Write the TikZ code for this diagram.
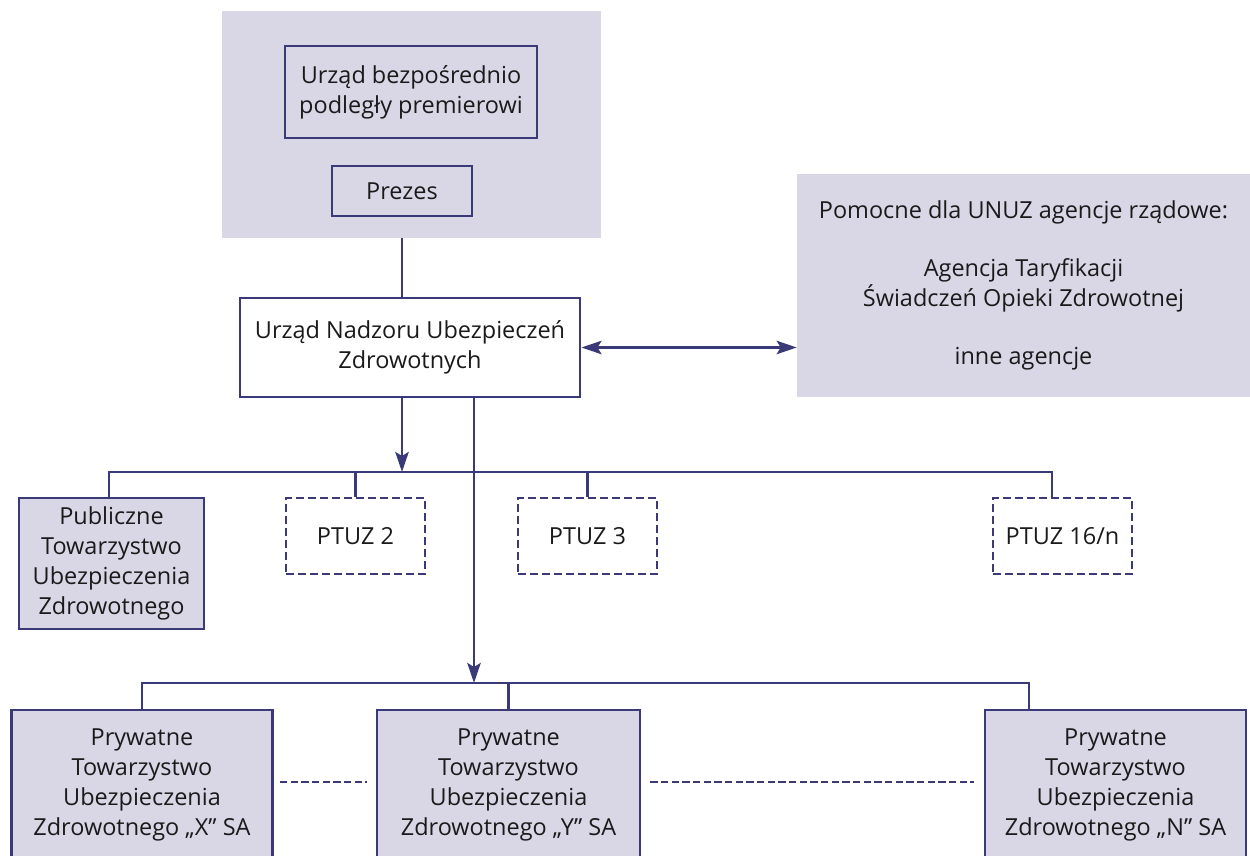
\documentclass[tikz,border=0pt]{standalone}
\usepackage{fontspec}
\setmainfont{Open Sans}
\usetikzlibrary{arrows.meta}
\definecolor{navy}{HTML}{3B3A78}
\definecolor{lav}{HTML}{D9D7E6}
\definecolor{ink}{HTML}{1A1A1A}
\newcommand{\fs}{\fontsize{17.6}{22.5}\selectfont}
\tikzset{
  pbox/.style={draw=navy, line width=2.2pt, align=center, inner sep=0pt, font=\fs, text=ink},
  fbox/.style={pbox, fill=lav},
  dbox/.style={pbox, fill=white, dash pattern=on 6pt off 3pt},
  panel/.style={fill=lav, align=center, inner sep=0pt, font=\fs, text=ink},
  conn/.style={draw=navy, line width=2pt},
  arr/.style={conn, -{Stealth[length=15pt, width=10pt, inset=3pt]}},
  darr/.style={conn, {Stealth[length=15pt, width=10pt, inset=3pt]}-{Stealth[length=15pt, width=10pt, inset=3pt]}},
  dline/.style={conn, dash pattern=on 5.5pt off 2.5pt}
}
\begin{document}
\begin{tikzpicture}[x=0.75pt, y=-0.75pt]
\clip (0,0) rectangle (1250,856);
\fill[white] (0,0) rectangle (1250,856);
% top panel
\node[panel, minimum width=284.25pt, minimum height=170.25pt] (panel) at (411.5,124.5) {};
\node[pbox, minimum width=189pt, minimum height=69pt] (urzad) at (411,92) {Urząd bezpośrednio\\podległy premierowi};
\node[pbox, minimum width=105pt, minimum height=37.5pt] (prezes) at (402,191) {Prezes};
% UNUZ
\node[pbox, fill=white, minimum width=255pt, minimum height=74.25pt] (unuz) at (410,347.5) {Urząd Nadzoru Ubezpieczeń\\Zdrowotnych};
% agencies
\node[panel, minimum width=339.75pt, minimum height=167.25pt] (agen) at (1023.5,285.5) {Pomocne dla UNUZ agencje rządowe:\\[21pt]Agencja Taryfikacji\\Świadczeń Opieki Zdrowotnej\\[21pt]inne agencje};
% public
\node[fbox, minimum width=138.75pt, minimum height=98.25pt] (pub) at (111.5,563.5) {Publiczne\\Towarzystwo\\Ubezpieczenia\\Zdrowotnego};
\node[dbox, minimum width=104.25pt, minimum height=57pt] (p2) at (355.5,536) {PTUZ 2};
\node[dbox, minimum width=104.25pt, minimum height=57pt] (p3) at (587.5,536) {PTUZ 3};
\node[dbox, minimum width=104.25pt, minimum height=57pt] (p16) at (1062.5,536) {PTUZ 16/n};
% private
\node[fbox, minimum width=195.75pt, minimum height=112.5pt] (px) at (142,785) {Prywatne\\Towarzystwo\\Ubezpieczenia\\Zdrowotnego „X” SA};
\node[fbox, minimum width=197.25pt, minimum height=112.5pt] (py) at (508.5,785) {Prywatne\\Towarzystwo\\Ubezpieczenia\\Zdrowotnego „Y” SA};
\node[fbox, minimum width=195.75pt, minimum height=112.5pt] (pn) at (1115.5,785) {Prywatne\\Towarzystwo\\Ubezpieczenia\\Zdrowotnego „N” SA};
% bus levels
\coordinate (bus1) at (0,472);
\coordinate (bus2) at (0,683);
% connectors
\draw[conn] (panel.south -| prezes.south) -- (unuz.north -| prezes.south);
\draw[darr] (unuz.east) -- (agen.west |- unuz.east);
\draw[arr] ([xshift=-6pt]unuz.south) -- ([xshift=-6pt]unuz.south |- bus1);
\draw[arr] ([xshift=48pt]unuz.south) -- ([xshift=48pt]unuz.south |- bus2);
\draw[conn] ([xshift=-1.9pt]pub.north) -- ([xshift=-1.9pt]pub.north |- bus1) -| ([xshift=-7.9pt]p16.north);
\draw[conn] (p2.north) -- (p2.north |- bus1);
\draw[conn] (p3.north) -- (p3.north |- bus1);
\draw[conn] (px.north) -- (px.north |- bus2) -| ([xshift=-65pt]pn.north);
\draw[conn] (py.north) -- (py.north |- bus2);
\draw[dline] ([xshift=4.5pt,yshift=2.25pt]px.east) -- ([xshift=-6.75pt,yshift=2.25pt]py.west);
\draw[dline] ([xshift=6.75pt,yshift=2.25pt]py.east) -- ([xshift=-7.5pt,yshift=2.25pt]pn.west);
\end{tikzpicture}
\end{document}
